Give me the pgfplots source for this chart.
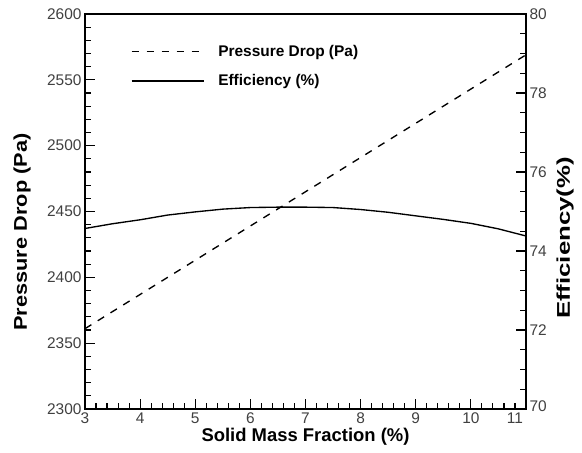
\documentclass[border=0pt]{standalone}
\usepackage{pgfplots}
\pgfplotsset{compat=1.18}
\usepackage{graphicx}
\usepackage{fontspec}
\setmainfont{Liberation Sans}
\begin{document}
\begin{tikzpicture}
\useasboundingbox (-85bp,-44bp) rectangle (497bp,409bp);
\pgfplotsset{
  common/.style={
    scale only axis, width=441bp, height=395bp,
    at={(0,0)}, anchor=south west,
    xmin=3, xmax=11,
    tick align=inside,
    major tick length=10bp, minor tick length=6bp,
    axis line style={line width=1.7bp},
    tick style={black, line width=1.1bp},
    tick label style={font=\fontsize{15.5}{15.5}\selectfont, text=black!75},
    label style={font=\fontsize{18.5}{18.5}\selectfont\bfseries},
    /pgf/number format/assume math mode=true,
    /pgf/number format/1000 sep={},
  }
}
\begin{axis}[
  common,
  ymin=2300, ymax=2600,
  xtick={3,4,...,11}, ytick={2300,2350,...,2600},
  xticklabels={3,4,5,6,7,8,9,10,\hbox to 0pt{\hss 11\hskip 3bp}},
  minor x tick num=4, minor y tick num=4,
  xtick pos=bottom, ytick pos=left,
  xlabel={Solid Mass Fraction (\%)},
  ylabel={\scalebox{1.18}[1]{Pressure Drop (Pa)}},
  xlabel style={at={(axis description cs:0.5,0)}, anchor=center, yshift=-28bp},
  ylabel style={at={(axis description cs:0,0.448)}, anchor=center, yshift=63bp},
  legend style={draw=none, fill=none, at={(0.097,0.932)}, anchor=north west,
    font=\fontsize{15.5}{15.5}\selectfont\bfseries, row sep=13bp},
  legend cell align=left,
  legend image code/.code={\draw[#1] (0bp,0bp) -- (72bp,0bp); \path (84bp,0bp);},
]
\addplot[black, line width=1.35bp, dash pattern=on 7.5bp off 7.5bp] coordinates {
  (3,2361) (11,2569)
};
\addlegendentry{Pressure Drop (Pa)}
\addlegendimage{black, line width=1.35bp}
\addlegendentry{Efficiency (\%)}
\end{axis}
\begin{axis}[
  common,
  ymin=70, ymax=80,
  axis x line=none,
  axis y line*=right,
  ytick={70,72,...,80},
  yticklabels={\raisebox{5bp}{70},72,74,76,78,80},
  minor y tick num=3,
  ylabel={\scalebox{1.4}[1]{Efficiency(\%)}},
  ylabel style={at={(axis description cs:1,0.433)}, anchor=center, yshift=-39bp},
]
\addplot[black, line width=1.35bp] coordinates {
  (3,74.57) (3.5,74.69) (4,74.79) (4.5,74.91) (5,74.99) (5.5,75.06) (6,75.1)
  (6.5,75.11) (7,75.11) (7.5,75.1) (8,75.05) (8.5,74.98) (9,74.89)
  (9.5,74.80) (10,74.70) (10.5,74.56) (11,74.38)
};
\end{axis}
\end{tikzpicture}
\end{document}
